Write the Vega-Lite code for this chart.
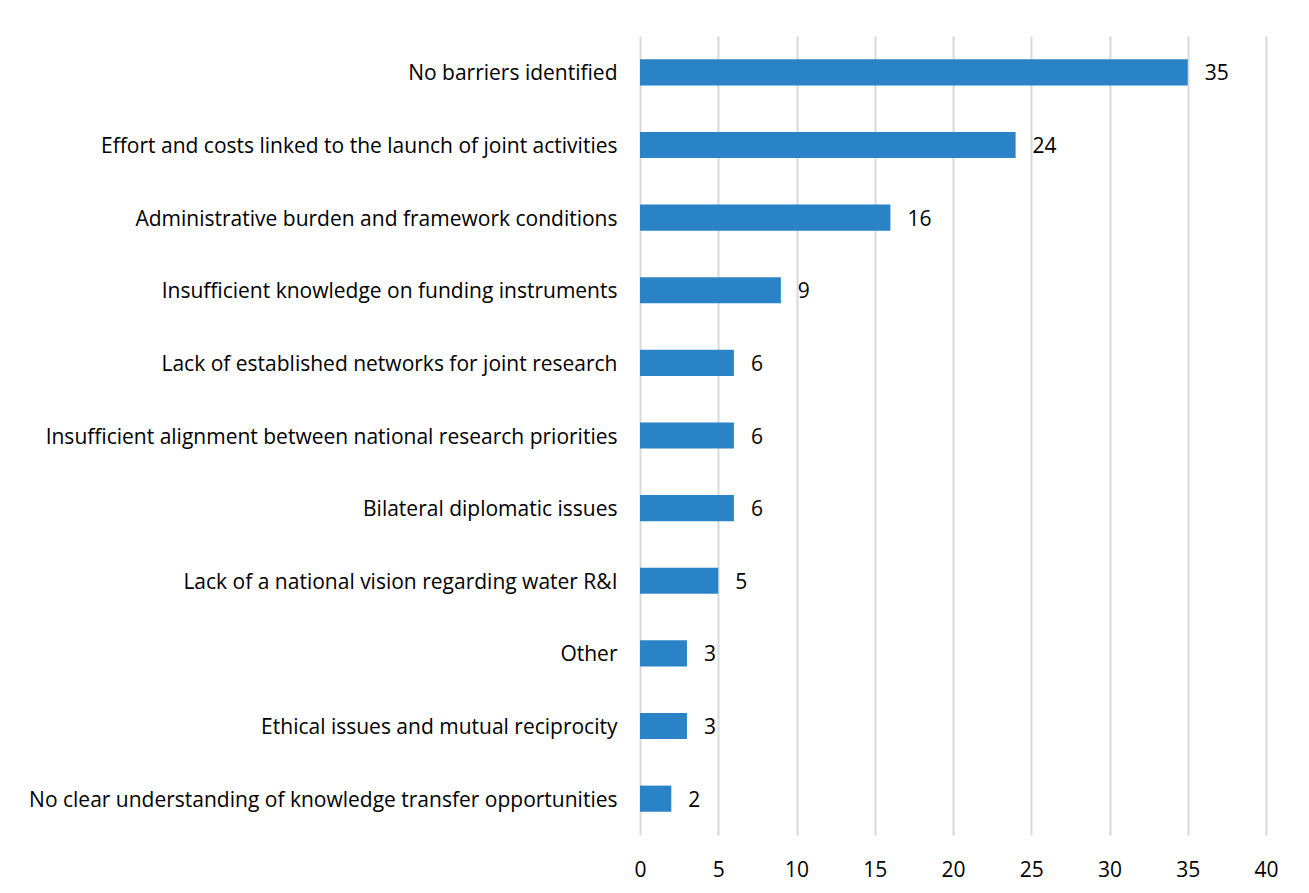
{
  "$schema": "https://vega.github.io/schema/vega-lite/v6.json",
  "autosize": {"type": "none"},
  "padding": {"left": 640, "top": 36, "right": 43, "bottom": 58},
  "width": 626,
  "height": 799,
  "background": "white",
  "config": {"view": {"stroke": null}, "font": "Open Sans"},
  "data": {"values": [
    {"category": "No barriers identified", "value": 35},
    {"category": "Effort and costs linked to the launch of joint activities\u00a0", "value": 24},
    {"category": "Administrative burden and framework conditions", "value": 16},
    {"category": "Insufficient knowledge on funding instruments", "value": 9},
    {"category": "Lack of established networks for joint research", "value": 6},
    {"category": "Insufficient alignment between national research priorities\u00a0", "value": 6},
    {"category": "Bilateral diplomatic issues", "value": 6},
    {"category": "Lack of a national vision regarding water R&I", "value": 5},
    {"category": "Other", "value": 3},
    {"category": "Ethical issues and mutual reciprocity", "value": 3},
    {"category": "No clear understanding of knowledge transfer opportunities\u00a0", "value": 2}
  ]},
  "encoding": {
    "y": {"field": "category", "type": "nominal", "sort": null,
      "scale": {"paddingInner": 0.64, "paddingOuter": 0.32},
      "axis": {"title": null, "domain": false, "ticks": false, "labelPadding": 23, "labelOffset": 2, "labelFontSize": 21, "labelColor": "#000000", "labelLimit": 700}},
    "x": {"field": "value", "type": "quantitative",
      "scale": {"domain": [0, 40]},
      "axis": {"title": null, "values": [0,5,10,15,20,25,30,35,40], "domain": false, "ticks": false, "grid": true, "gridColor": "#d9d9d9", "gridWidth": 2, "labelFontSize": 21, "labelColor": "#000000", "labelPadding": 24, "labelFlush": false}}
  },
  "layer": [
    {"mark": {"type": "bar", "color": "#2a83c7"}},
    {"mark": {"type": "text", "align": "left", "dx": 17, "dy": 2, "fontSize": 21, "color": "#000000"},
     "encoding": {"text": {"field": "value", "type": "quantitative"}}}
  ]
}
